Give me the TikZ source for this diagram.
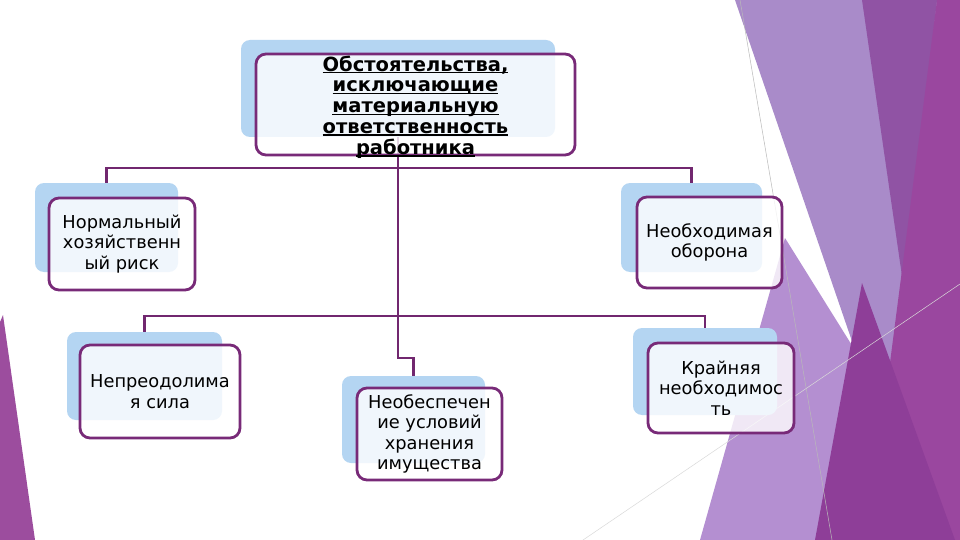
\documentclass[tikz,border=0pt]{standalone}
\usepackage{fontspec}
\setmainfont{DejaVu Sans}
\definecolor{backblue}{HTML}{B4D5F2}
\definecolor{framepurple}{HTML}{782A78}
\definecolor{connpurple}{HTML}{71276F}
\definecolor{lavA}{HTML}{A98BC9}
\definecolor{bandB}{HTML}{9053A4}
\definecolor{magC}{HTML}{9A479F}
\definecolor{lavL}{HTML}{B48FD1}
\definecolor{darkD}{HTML}{8E3E98}
\definecolor{leftT}{HTML}{9C4D9E}
\newcommand\ulx[1]{\setbox0=\hbox{#1}\rlap{\rule[-2.4pt]{\wd0}{1.4pt}}\box0}
\begin{document}
\begin{tikzpicture}[x=1pt,y=-1pt,
  backbox/.style={rectangle, rounded corners=9pt, fill=backblue, inner sep=0pt},
  frontbox/.style={rectangle, rounded corners=10pt, fill=white, fill opacity=0.8,
    text opacity=1, draw=framepurple, draw opacity=1, line width=2.8pt,
    align=center, inner sep=1pt, font=\fontsize{17.8}{20.5}\selectfont},
  conn/.style={draw=connpurple, line width=2.8pt},
  thinline/.style={line width=0.5pt}]
\useasboundingbox (0,0) rectangle (960,540);
\fill[white] (0,0) rectangle (960,540);
% background decoration
\fill[lavA] (735,0) -- (960,0) -- (960,540) -- (880,540) -- (855,350) -- cycle;
\fill[bandB] (862,0) -- (937,0) -- (904,290) -- cycle;
\fill[magC] (937,0) -- (960,0) -- (960,540) -- (867,540) -- (902,270) -- cycle;
\fill[lavL] (785,238) -- (853,347) -- (880,540) -- (700,540) -- cycle;
\fill[darkD] (862,283) -- (955,540) -- (815,540) -- cycle;
\draw[thinline, gray!55] (740,0) -- (832,540);
\draw[thinline, gray!30] (583,540) -- (960,284);
\fill[leftT] (0,322) -- (3,315) -- (35,540) -- (0,540) -- cycle;
% back boxes
\node[backbox, minimum width=314pt, minimum height=97pt] (b0) at (398,88.5) {};
\node[backbox, minimum width=143pt, minimum height=89pt] (b1) at (106.5,227.5) {};
\node[backbox, minimum width=141pt, minimum height=89pt] (b2) at (691.5,227.5) {};
\node[backbox, minimum width=155pt, minimum height=88pt] (b3) at (144.5,376) {};
\node[backbox, minimum width=143pt, minimum height=87pt] (b4) at (413.5,419.5) {};
\node[backbox, minimum width=144pt, minimum height=87pt] (b5) at (705,371.5) {};
% connectors
\coordinate (h1) at (0,168);
\coordinate (h2) at (0,316);
\coordinate (h3) at (0,358);
\draw[conn] (b1.north) |- (b0.south |- h1) -| (b2.north);
\draw[conn] (b3.north) |- (b0.south |- h2) -| (b5.north);
\draw[conn] (b0.south) |- (b4.north |- h3) -- (b4.north);
% front boxes
\node[frontbox, minimum width=319pt, minimum height=101pt] (f0) at (415.5,104.5) {};
\node[align=center, inner sep=0pt, font=\fontsize{19.5}{20.8}\selectfont\bfseries] (t0) at (415.5,107)
  {\ulx{Обстоятельства,}\\\ulx{исключающие}\\\ulx{материальную}\\\ulx{ответственность}\\\ulx{работника}};
\node[frontbox, minimum width=146pt, minimum height=92pt] (f1) at (122,244)
  {Нормальный\\хозяйственн\\ый риск};
\node[frontbox, minimum width=145pt, minimum height=91pt] (f2) at (709.5,242.5)
  {Необходимая\\оборона};
\node[frontbox, minimum width=160pt, minimum height=93pt] (f3) at (160,391.5)
  {Непреодолима\\я сила};
\node[frontbox, minimum width=145pt, minimum height=92pt] (f4) at (429.5,434)
  {Необеспечен\\ие условий\\хранения\\имущества};
\node[frontbox, minimum width=146pt, minimum height=90pt] (f5) at (721,388)
  {Крайняя\\необходимос\\ть};
\end{tikzpicture}
\end{document}
